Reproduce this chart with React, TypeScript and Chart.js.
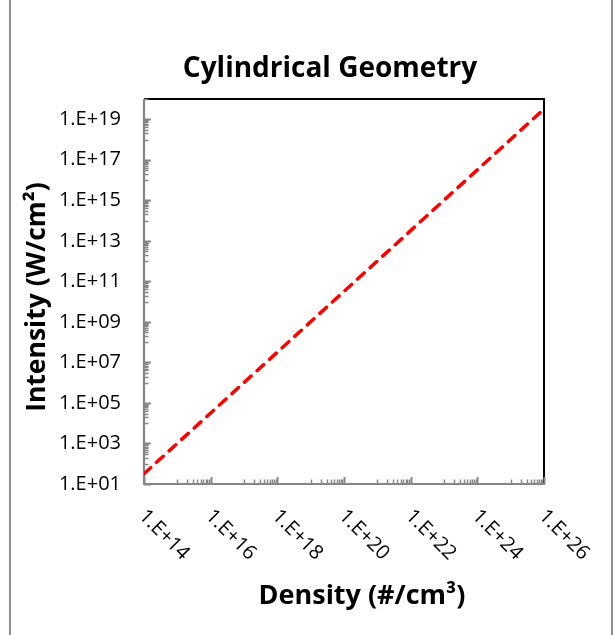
import React, { useEffect, useRef } from "react";
import { Chart, registerables } from "chart.js";

Chart.register(...registerables);

// ---- data ----
const DENSITY = [1e14, 1e16, 1e18, 1e20, 1e22, 1e24, 1e26];
const INTENSITY = [3.2e1, 3.2e4, 3.2e7, 3.2e10, 3.2e13, 3.2e16, 3.2e19];
const X_TICKS = [1e14, 1e16, 1e18, 1e20, 1e22, 1e24, 1e26];
const Y_TICKS = [1e1, 1e3, 1e5, 1e7, 1e9, 1e11, 1e13, 1e15, 1e17, 1e19];
const X_RANGE = [1e14, 1e26];
const Y_RANGE = [1e1, 1e20];
const TITLE = "Cylindrical Geometry";
const X_TITLE = "Density (#/cm³)";
const Y_TITLE = "Intensity (W/cm²)";

const FONT = "'Open Sans'";
const GREY = "#868686";

const fmt = (v: number) => {
  const e = Math.round(Math.log10(v));
  return "1.E+" + String(e).padStart(2, "0");
};

const minorsOf = (majors: number[], max: number) => {
  const out: number[] = [];
  majors.forEach((m) => {
    for (let j = 1; j <= 9; j++) {
      const v = m * 10 * j;
      if (v <= max * 1.0001) out.push(v);
    }
  });
  return out;
};

const framePlugin = {
  id: "frame",
  beforeDatasetsDraw(chart: any) {
    const { ctx, chartArea: a, scales } = chart;
    const xs = scales.x;
    const ys = scales.y;
    ctx.save();
    // black top/right border
    ctx.strokeStyle = "#000";
    ctx.lineWidth = 2;
    ctx.beginPath();
    ctx.moveTo(a.left, a.top);
    ctx.lineTo(a.right, a.top);
    ctx.lineTo(a.right, a.bottom);
    ctx.stroke();
    // tick marks (inside)
    ctx.strokeStyle = GREY;
    const xMin = minorsOf(X_TICKS, X_RANGE[1]);
    const yMin = minorsOf(Y_TICKS, Y_RANGE[1]);
    const drawX = (v: number, len: number) => {
      const px = Math.round(xs.getPixelForValue(v)) + 0.5;
      ctx.beginPath();
      ctx.moveTo(px, a.bottom);
      ctx.lineTo(px, a.bottom - len);
      ctx.stroke();
    };
    const drawY = (v: number, len: number) => {
      const py = Math.round(ys.getPixelForValue(v)) + 0.5;
      ctx.beginPath();
      ctx.moveTo(a.left, py);
      ctx.lineTo(a.left + len, py);
      ctx.stroke();
    };
    ctx.lineWidth = 1.5;
    xMin.forEach((v) => drawX(v, 4.5));
    yMin.forEach((v) => drawY(v, 4.5));
    ctx.lineWidth = 2;
    X_TICKS.forEach((v) => drawX(v, 7));
    Y_TICKS.forEach((v) => drawY(v, 7));
    // grey axes
    ctx.lineWidth = 2.2;
    ctx.beginPath();
    ctx.moveTo(a.left, a.top);
    ctx.lineTo(a.left, a.bottom);
    ctx.lineTo(a.right + 1, a.bottom);
    ctx.stroke();
    ctx.restore();
  },
  afterDraw(chart: any) {
    const { ctx, chartArea: a, scales } = chart;
    const xs = scales.x;
    ctx.save();
    ctx.fillStyle = "#000";
    // chart title
    ctx.font = `bold 28px ${FONT}`;
    ctx.textAlign = "center";
    ctx.textBaseline = "alphabetic";
    ctx.fillText(TITLE, 330, 77);
    // rotated x tick labels
    ctx.font = `20px ${FONT}`;
    ctx.textAlign = "left";
    ctx.textBaseline = "middle";
    X_TICKS.forEach((v) => {
      const px = xs.getPixelForValue(v);
      ctx.save();
      ctx.translate(px - 2, a.bottom + 29);
      ctx.rotate(Math.PI / 4);
      ctx.fillText(fmt(v), 0, 0);
      ctx.restore();
    });
    // x axis title
    ctx.font = `bold 27px ${FONT}`;
    ctx.textAlign = "center";
    ctx.textBaseline = "alphabetic";
    ctx.fillText(X_TITLE, 362, 604);
    // y axis title
    ctx.save();
    ctx.translate(37, 297);
    ctx.rotate(-Math.PI / 2);
    ctx.textBaseline = "middle";
    ctx.font = `bold 26.5px ${FONT}`;
    ctx.fillText(Y_TITLE, 0, 0);
    ctx.restore();
    ctx.restore();
  },
};

export default function App() {
  const ref = useRef<HTMLCanvasElement>(null);
  useEffect(() => {
    if (!ref.current) return;
    const chart = new Chart(ref.current, {
      type: "scatter",
      data: {
        datasets: [
          {
            data: DENSITY.map((d, i) => ({ x: d, y: INTENSITY[i] })),
            showLine: true,
            borderColor: "#ff0000",
            backgroundColor: "#ff0000",
            borderWidth: 3.5,
            borderDash: [9, 8],
            borderCapStyle: "round",
            pointRadius: 0,
            pointHoverRadius: 0,
            tension: 0,
          },
        ],
      },
      options: {
        responsive: false,
        animation: false,
        devicePixelRatio: 1,
        layout: { padding: { left: 12, right: 69, top: 99, bottom: 0 } },
        plugins: {
          legend: { display: false },
          tooltip: { enabled: false },
          title: { display: false },
        },
        scales: {
          x: {
            type: "logarithmic",
            min: X_RANGE[0],
            max: X_RANGE[1],
            afterBuildTicks: (s: any) => {
              s.ticks = X_TICKS.map((v) => ({ value: v }));
            },
            afterFit: (s: any) => {
              s.height = 151;
            },
            ticks: { display: false },
            grid: { display: false },
            border: { display: false },
          },
          y: {
            type: "logarithmic",
            min: Y_RANGE[0],
            max: Y_RANGE[1],
            afterBuildTicks: (s: any) => {
              s.ticks = Y_TICKS.map((v) => ({ value: v }));
            },
            afterFit: (s: any) => {
              s.width = 132;
            },
            ticks: {
              callback: (v: any) => fmt(Number(v)),
              color: "#000",
              font: { family: FONT, size: 20 },
              padding: 23,
              autoSkip: false,
            },
            grid: { display: false, drawTicks: false },
            border: { display: false },
            title: { display: false },
          },
        },
      },
      plugins: [framePlugin],
    } as any);
    return () => chart.destroy();
  }, []);

  return (
    <div
      style={{
        position: "fixed",
        left: 0,
        top: 0,
        width: 613,
        height: 635,
        overflow: "hidden",
        background: "#fff",
      }}
    >
      <canvas
        ref={ref}
        width={613}
        height={635}
        style={{ position: "absolute", left: 0, top: 0, width: 613, height: 635 }}
      />
      <div
        style={{
          position: "absolute",
          left: 9,
          top: -5,
          width: 600,
          height: 700,
          borderLeft: "2px solid #909090",
          borderRight: "2px solid #909090",
          pointerEvents: "none",
        }}
      />
    </div>
  );
}
